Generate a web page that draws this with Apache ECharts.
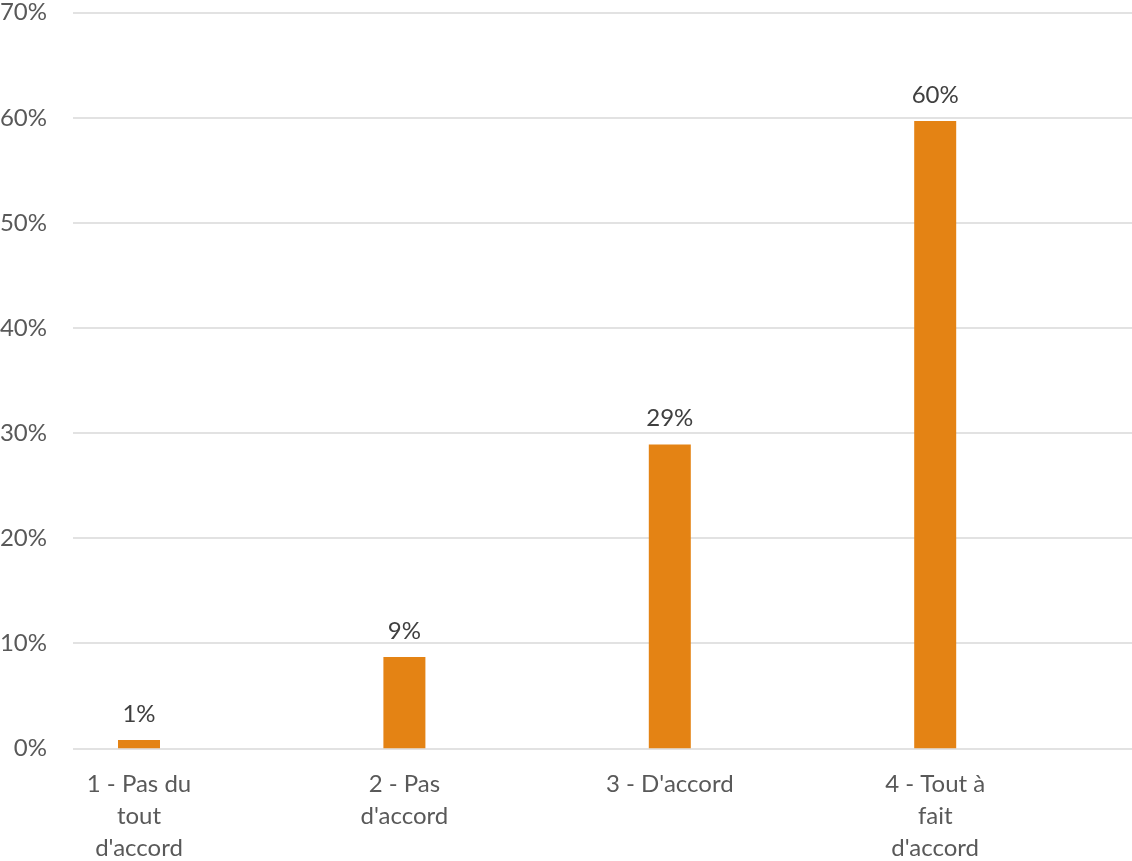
<!DOCTYPE html>
<html>
<head>
<meta charset="utf-8">
<script src="https://cdn.jsdelivr.net/npm/echarts@6/dist/echarts.min.js"></script>
<style>
html,body{margin:0;padding:0;background:#fff;}
#c{width:1132px;height:861px;}
</style>
</head>
<body>
<div id="c"></div>
<script>
var categories = ["1 - Pas du\ntout\nd'accord", "2 - Pas\nd'accord", "3 - D'accord", "4 - Tout à\nfait\nd'accord"];
var values = [0.8, 8.7, 28.9, 59.7];
var yTicks = [0, 10, 20, 30, 40, 50, 60, 70];

var FONT = 'Lato, "Liberation Sans", sans-serif';
var chart = echarts.init(document.getElementById('c'), null, {renderer: 'canvas'});
chart.setOption({
  backgroundColor: '#ffffff',
  animation: false,
  grid: [
    {left: 73, right: 0, top: 12.7, bottom: 112.7, containLabel: false, outerBoundsMode: 'none'},
    {left: 6.3, width: 1061.6, top: 12.7, bottom: 112.7, containLabel: false, outerBoundsMode: 'none'}
  ],
  xAxis: [
    {type: 'category', gridIndex: 0, data: categories, show: false},
    {type: 'category', gridIndex: 1, data: categories,
     axisLine: {show: false}, axisTick: {show: false}, splitLine: {show: false},
     axisLabel: {color: '#595959', fontFamily: FONT, fontSize: 24, lineHeight: 32, margin: 20, interval: 0, align: 'center'}}
  ],
  yAxis: [
    {type: 'value', gridIndex: 0, min: yTicks[0], max: yTicks[yTicks.length - 1], interval: 10,
     axisLine: {show: false}, axisTick: {show: false},
     splitLine: {lineStyle: {color: '#D9D9D9', width: 1.5}},
     axisLabel: {formatter: '{value}%', color: '#595959', fontFamily: FONT, fontSize: 24, margin: 26}},
    {type: 'value', gridIndex: 1, min: yTicks[0], max: yTicks[yTicks.length - 1], interval: 10, show: false}
  ],
  series: [{
    type: 'bar',
    xAxisIndex: 1, yAxisIndex: 1,
    data: values,
    barWidth: 42,
    itemStyle: {color: '#E48314'},
    label: {show: true, position: 'top', distance: 14, color: '#404040', fontFamily: FONT, fontSize: 24,
      formatter: function (p) { return Math.round(p.value) + '%'; }}
  }]
});
</script>
</body>
</html>
